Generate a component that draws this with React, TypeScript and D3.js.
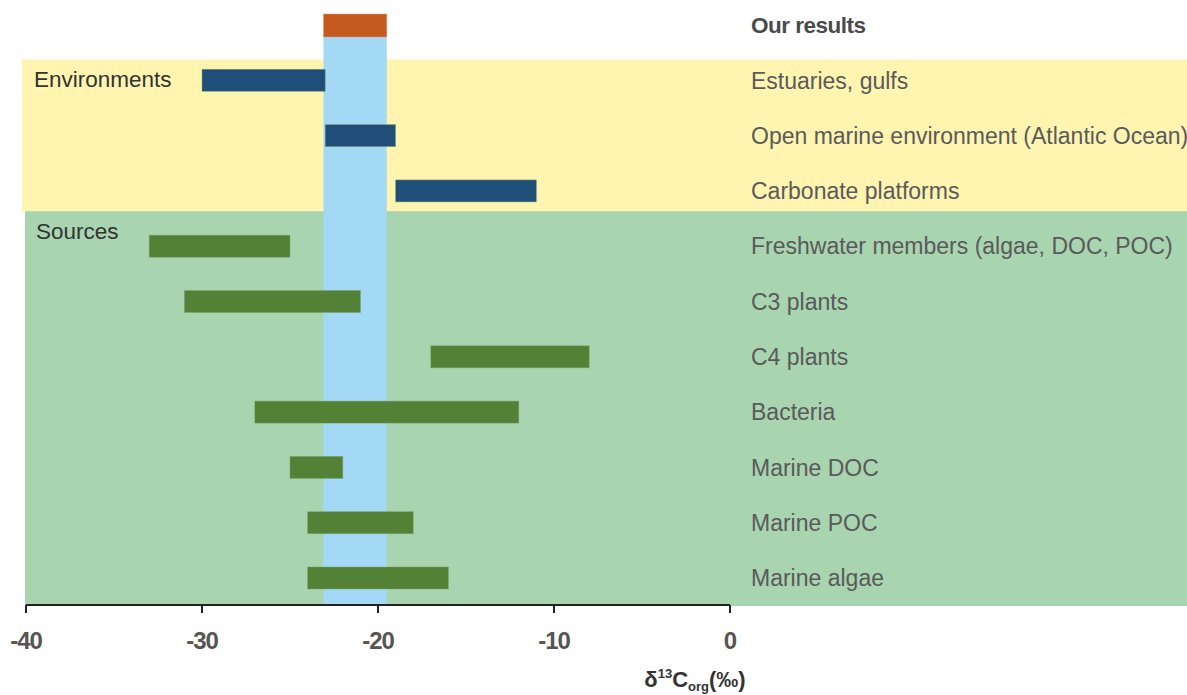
import React from "react";
import * as d3 from "d3";

const categories = [
  "Our results",
  "Estuaries, gulfs",
  "Open marine environment (Atlantic Ocean)",
  "Carbonate platforms",
  "Freshwater members (algae, DOC, POC)",
  "C3 plants",
  "C4 plants",
  "Bacteria",
  "Marine DOC",
  "Marine POC",
  "Marine algae",
];
const groups = ["result", "env", "env", "env", "src", "src", "src", "src", "src", "src", "src"];
const minValues = [-23.1, -30, -23, -19, -33, -31, -17, -27, -25, -24, -24];
const maxValues = [-19.5, -23, -19, -11, -25, -21, -8, -12, -22, -18, -16];
const xTicks = [-40, -30, -20, -10, 0];
const bandRange = [-23.1, -19.5];

const W = 1187;
const H = 695;

export default function App() {
  const x = d3.scaleLinear().domain([-40, 0]).range([26, 730]);
  const y = d3.scalePoint<string>().domain(categories).range([25, 578]);
  const axisY = 605;
  const barH = 22;
  const colors: Record<string, string> = { result: "#C55A1E", env: "#1F4E79", src: "#538135" };
  const yEnvTop = (y(categories[1]) as number) - 21;
  const ySrcTop = (y(categories[4]) as number) - 35;

  return (
    <svg width={W} height={H} style={{ position: "absolute", left: 0, top: 0, fontFamily: "Liberation Sans, Arial, sans-serif" }}>
      <rect x={22} y={yEnvTop} width={W - 22} height={ySrcTop - yEnvTop} fill="#FFF5B1" />
      <rect x={25} y={ySrcTop} width={W - 25} height={axisY + 1 - ySrcTop} fill="#A8D4B0" />
      <rect x={x(bandRange[0])} y={37} width={x(bandRange[1]) - x(bandRange[0])} height={axisY - 37} fill="#A4D9F6" />
      <text x={34} y={87} fontSize={22.5} fill="#333">Environments</text>
      <text x={36} y={239} fontSize={22.5} fill="#333">Sources</text>
      {categories.map((c, i) => {
        const cy = y(c) as number;
        const isRes = groups[i] === "result";
        return (
          <g key={c}>
            <rect
              x={x(minValues[i])}
              y={isRes ? 14 : cy - barH / 2}
              width={x(maxValues[i]) - x(minValues[i])}
              height={isRes ? 23 : barH}
              fill={colors[groups[i]]}
              stroke={isRes ? "#D9A080" : "#7FA070"}
              strokeWidth={0.8}
              strokeOpacity={0.6}
            />
            <text
              x={751}
              y={cy}
              dy="0.36em"
              fontSize={isRes ? 22.5 : 23}
              fill={isRes ? "#4A4A4A" : "#5A5A5A"}
              fontWeight={isRes ? "bold" : "normal"}
              letterSpacing={isRes ? -0.5 : 0}
            >
              {c}
            </text>
          </g>
        );
      })}
      <line x1={x(-40)} x2={x(0)} y1={axisY} y2={axisY} stroke="#222" strokeWidth={2} />
      {xTicks.map((t) => (
        <g key={t}>
          <line x1={x(t)} x2={x(t)} y1={axisY} y2={axisY + 8} stroke="#222" strokeWidth={2} />
          <text x={x(t)} y={649} textAnchor="middle" fontSize={24} fontWeight="bold" fill="#555" letterSpacing={-1}>
            {t}
          </text>
        </g>
      ))}
      <text x={695} y={687} textAnchor="middle" fontSize={22} fontWeight="bold" fill="#333">
        δ<tspan fontSize={13} dy={-9}>13</tspan>
        <tspan dy={9}>C</tspan>
        <tspan fontSize={13} dy={4}>org</tspan>
        <tspan dy={-4}>(‰)</tspan>
      </text>
    </svg>
  );
}
